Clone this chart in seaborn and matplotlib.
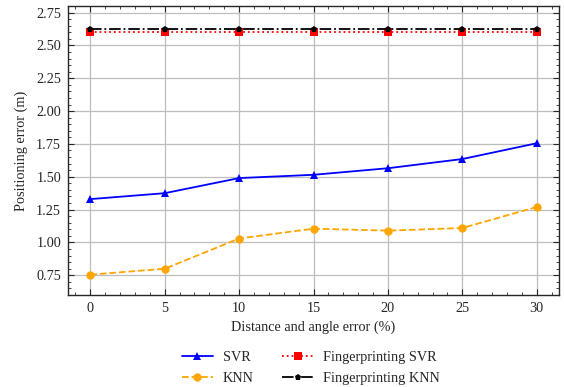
import matplotlib
matplotlib.use("Agg")
import matplotlib.pyplot as plt
import seaborn as sns
import pandas as pd
from matplotlib.ticker import AutoMinorLocator

errors = [0, 5, 10, 15, 20, 25, 30]
svr = [1.33, 1.375, 1.49, 1.515, 1.565, 1.635, 1.755]
knn = [0.755, 0.80, 1.03, 1.105, 1.09, 1.11, 1.27]
fp_svr = [2.60, 2.60, 2.60, 2.60, 2.60, 2.60, 2.60]
fp_knn = [2.625, 2.625, 2.625, 2.625, 2.625, 2.625, 2.625]

sns.set_style("ticks")
plt.rcParams['font.family'] = ['Liberation Serif', 'DejaVu Serif']
plt.rcParams['mathtext.fontset'] = 'stix'

fs = 10.3
fig = plt.figure(figsize=(5.64, 3.87), dpi=100)
ax = fig.add_axes([68/564, 1-295/387, (559-68)/564, (295-6)/387])

series = [
    ("SVR", svr, dict(color="blue", linestyle="-", marker="^", markersize=6)),
    ("KNN", knn, dict(color="orange", linestyle="--", marker="o", markersize=6)),
    ("Fingerprinting SVR", fp_svr, dict(color="red", linestyle=":", marker="s", markersize=6)),
    ("Fingerprinting KNN", fp_knn, dict(color="black", linestyle="-.", marker="p", markersize=5)),
]
for name, vals, st in series:
    df = pd.DataFrame({"x": errors, "y": vals})
    sns.lineplot(data=df, x="x", y="y", ax=ax, label=name, linewidth=1.3,
                 markeredgewidth=0, **st)

yt = [0.75, 1.0, 1.25, 1.5, 1.75, 2.0, 2.25, 2.5, 2.75]
ax.set_ylim(0.6, 2.8)
ax.set_xticks(errors)
ax.set_yticks(yt)
ax.set_yticklabels([f"{v:.2f}" for v in yt])
ax.xaxis.set_minor_locator(AutoMinorLocator(5))
ax.yaxis.set_minor_locator(AutoMinorLocator(5))
ax.tick_params(which="both", direction="in", top=True, right=True, labelsize=fs)
ax.tick_params(which="major", length=4, width=0.8, pad=5)
ax.tick_params(which="minor", length=2, width=0.6)
ax.grid(True, which="major", color="#bdbdbd", linewidth=0.9)
ax.set_axisbelow(True)
for s in ax.spines.values():
    s.set_linewidth(1.0)
ax.set_xlabel("Distance and angle error (%)", fontsize=fs, labelpad=4)
ax.set_ylabel("Positioning error (m)", fontsize=fs, labelpad=6)
ax.legend(loc="upper center", bbox_to_anchor=(0.495, -0.173), ncol=2, frameon=False,
          fontsize=fs, columnspacing=2.0, handlelength=2.17, handletextpad=0.7,
          labelspacing=0.55, borderaxespad=0)

fig.savefig("out.png", dpi=100)
